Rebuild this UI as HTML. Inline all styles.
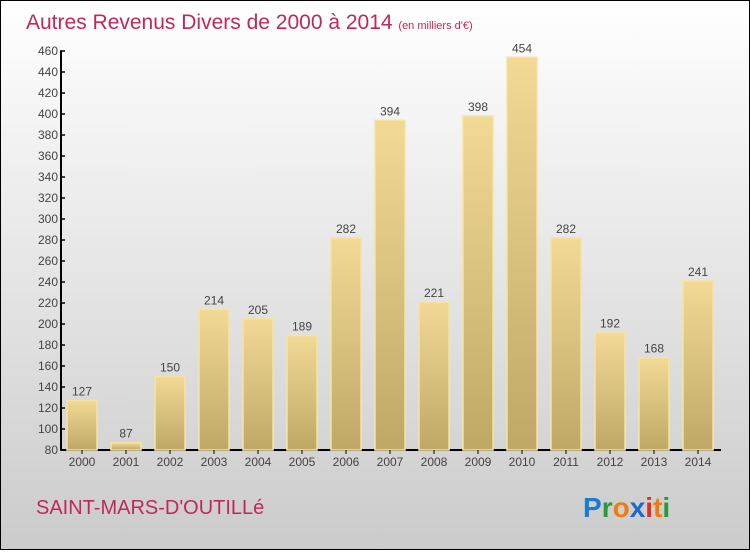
<!DOCTYPE html>
<html><head><meta charset="utf-8"><style>
body{margin:0;width:750px;height:550px;overflow:hidden}
svg text{font-family:"Liberation Sans",sans-serif}
</style></head><body>
<svg width="750" height="550">
<defs>
<linearGradient id="bg" x1="0" y1="0" x2="0" y2="1"><stop offset="0" stop-color="#ffffff"/><stop offset="1" stop-color="#cbcbcb"/></linearGradient>
<linearGradient id="bar" x1="0" y1="0" x2="0" y2="1"><stop offset="0" stop-color="#f2da95"/><stop offset="1" stop-color="#bfa766"/></linearGradient>
</defs>
<rect x="0.5" y="0.5" width="749" height="549" fill="url(#bg)" stroke="#000"/>
<text x="26" y="29" font-size="21" fill="#c0285a">Autres Revenus Divers de 2000 à 2014 <tspan font-size="11">(en milliers d'€)</tspan></text>
<g id="yaxis"></g>
<g id="bars"></g>
<text x="36" y="514" font-size="20" fill="#c0285a">SAINT-MARS-D'OUTILLé</text>
<g font-size="28" font-weight="bold">
<text x="583" y="517"><tspan fill="#1a7ad4">P</tspan><tspan fill="#2a9a3a">r</tspan><tspan fill="#f07c10">o</tspan><tspan fill="#1a6ad0">x</tspan><tspan fill="#e03020">i</tspan><tspan fill="#f07c10">t</tspan><tspan fill="#2a9a3a">i</tspan></text>
</g>
</svg>
<script>
const categories=["2000","2001","2002","2003","2004","2005","2006","2007","2008","2009","2010","2011","2012","2013","2014"];
const values=[127,87,150,214,205,189,282,394,221,398,454,282,192,168,241];
const yTicks=[80,100,120,140,160,180,200,220,240,260,280,300,320,340,360,380,400,420,440,460];
const NS="http://www.w3.org/2000/svg";
const y0=450,y1=51,vmin=80,vmax=460,x0=61,pitch=44,bw=30;
const Y=v=>y0-(v-vmin)*(y0-y1)/(vmax-vmin);
const X=i=>x0+6+i*pitch;
function mk(tag,attrs,parent){const e=document.createElementNS(NS,tag);for(const k in attrs)e.setAttribute(k,attrs[k]);parent.appendChild(e);return e;}
const ya=document.getElementById('yaxis');
let l=mk('line',{x1:x0,y1:y1,x2:x0,y2:y0,stroke:'#000','stroke-width':2},ya);


l=mk('line',{x1:x0,y1:y0,x2:721,y2:y0,stroke:'#000','stroke-width':2},ya);


yTicks.forEach(t=>{
 const tk=mk('line',{x1:x0-1,y1:Y(t),x2:x0+4,y2:Y(t),stroke:'#000','stroke-width':1.5},ya);
 
 
 const tx=mk('text',{x:x0-3,y:Y(t)+4,'font-size':12,'text-anchor':'end',fill:'#444'},ya);
 tx.textContent=t;
 
 
});
const bg=document.getElementById('bars');
categories.forEach((c,i)=>{
 const v=values[i];
 const r=mk('rect',{x:X(i),y:Y(v),width:bw,height:y0-Y(v),fill:'url(#bar)',stroke:'#f4e3a8','stroke-width':1.5},bg);
 
 
 const vt=mk('text',{x:X(i)+bw/2,y:Y(v)-5,'font-size':12,'text-anchor':'middle',fill:'#444'},bg);
 vt.textContent=v;
 
 
 const tk=mk('line',{x1:X(i)+bw/2,y1:y0,x2:X(i)+bw/2,y2:y0+4,stroke:'#000'},bg);
 
 
 const xt=mk('text',{x:X(i)+bw/2,y:y0+16,'font-size':12,'text-anchor':'middle',fill:'#444'},bg);
 xt.textContent=c;
 
 
});
</script>
</body></html>
